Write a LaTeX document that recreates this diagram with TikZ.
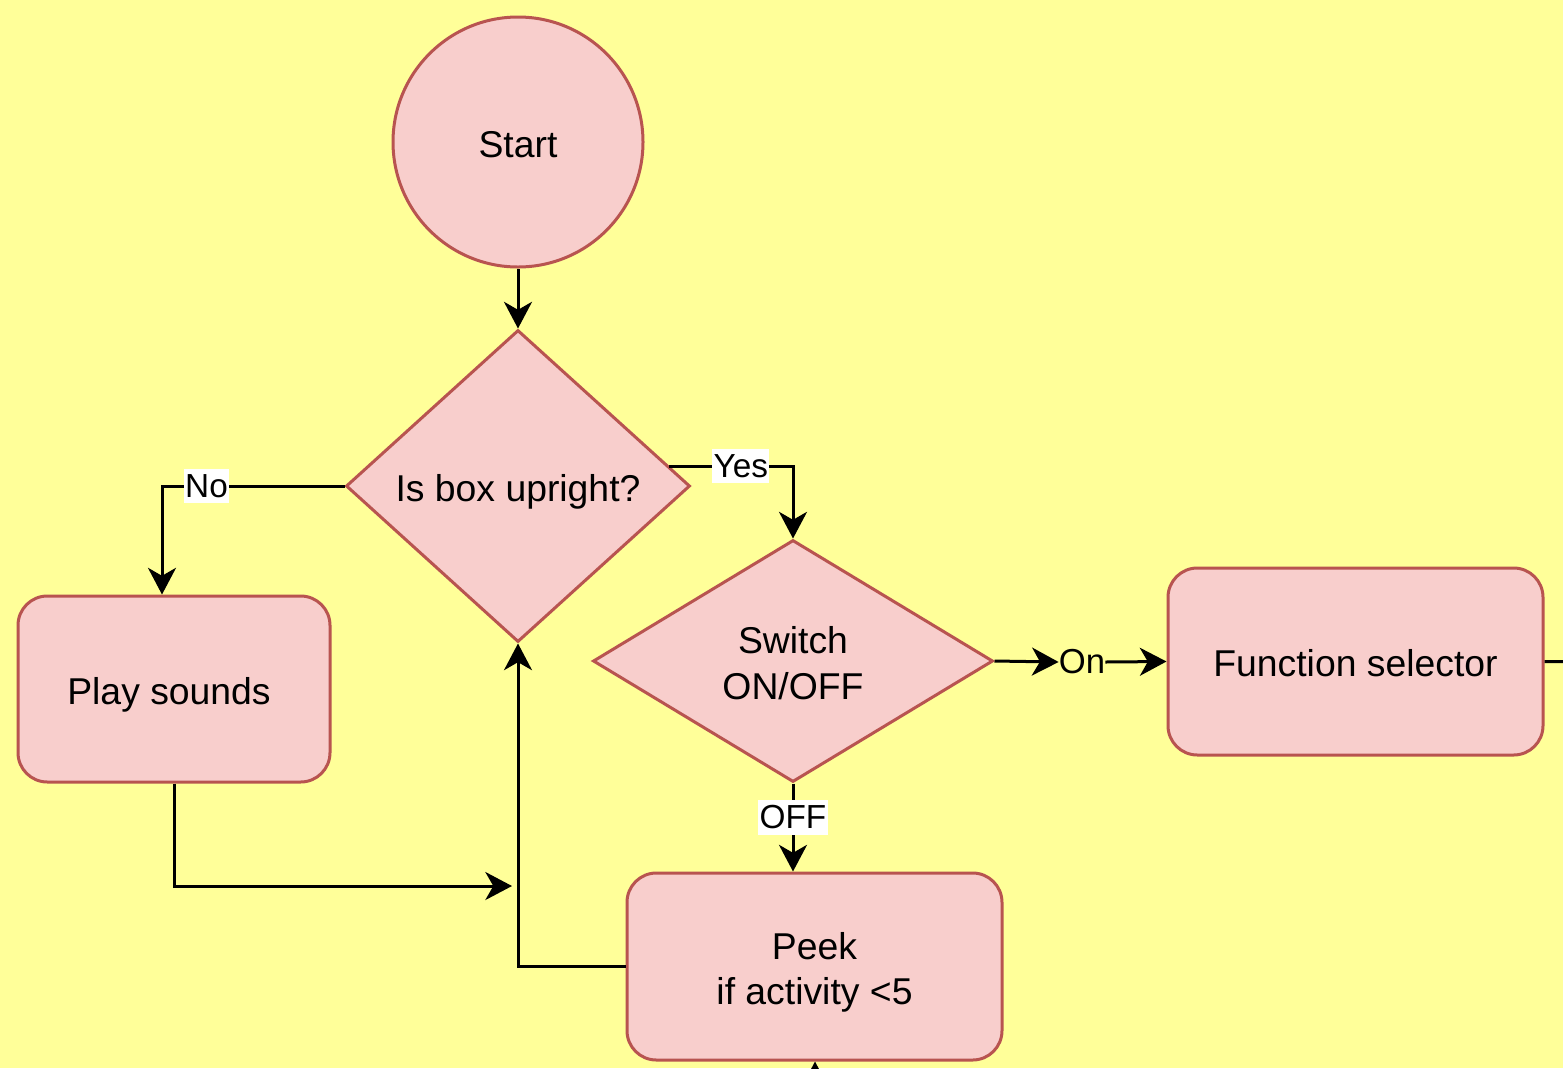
\documentclass[tikz,border=0pt]{standalone}
\usepackage{fontspec}
\setmainfont{Liberation Sans}
\usetikzlibrary{shapes.geometric,arrows.meta,calc}
\definecolor{bgyellow}{HTML}{FFFF99}
\definecolor{pinkfill}{HTML}{F8CECC}
\definecolor{pinkline}{HTML}{B85450}
\tikzset{
  shapebox/.style={draw=pinkline,fill=pinkfill,line width=2.25pt,font=\fontsize{28}{34}\selectfont,align=center,inner sep=0pt,text height=29pt,text depth=6pt},
  twoline/.style={text height=63pt,text depth=6pt},
  roundbox/.style={shapebox,rectangle,rounded corners=22pt},
  decision/.style={shapebox,diamond},
  conn/.style={line width=2.25pt,-{Stealth[length=20pt,width=21pt,inset=6pt]}},
  plainconn/.style={line width=2.25pt},
  edgelabel/.style={fill=white,inner xsep=1pt,inner ysep=4pt,font=\fontsize{25}{30}\selectfont},
}
\begin{document}
\begin{tikzpicture}[x=0.75pt,y=-0.75pt]
\useasboundingbox (0,0) rectangle (1563,1068);
\clip (0,0) rectangle (1563,1068);
\fill[bgyellow] (0,0) rectangle (1563,1068);

\node[shapebox,circle,minimum size=187.5pt] (start) at (518,142) {Start};
\node[decision,minimum width=258pt,minimum height=234pt] (d1) at (518,486) {Is box upright?};
\node[roundbox,minimum width=234pt,minimum height=139.5pt] (play) at (174,689) {Play sounds\hspace*{7.5pt}};
\node[decision,twoline,minimum width=300pt,minimum height=181.5pt] (d2) at (793,661) {Switch\\ON/OFF};
\node[roundbox,minimum width=281.25pt,minimum height=140.25pt] (fs) at (1355.5,661.5) {Function selector};
\node[roundbox,twoline,minimum width=281.25pt,minimum height=140.25pt] (peek) at (814.5,966.5) {Peek\\if activity <5};
\node[inner sep=0pt,font=\fontsize{26}{30}\selectfont] (on) at (1082,662) {On};

\coordinate (nodrop) at ($(play.north)+(-12,0)$);
\coordinate (yesstart) at ($(d1.east)!0.127!(d1.north)$);
\coordinate (playend) at (512,886);
\coordinate (offright) at (1600,662);
\coordinate (belowpeek) at (815,1120);

\draw[conn] (start.south) -- (d1.north);
\draw[conn] (d1.west) -| node[edgelabel,pos=0.378] {No} (nodrop);
\draw[conn] (yesstart) -| node[edgelabel,pos=0.289] {Yes} (d2.north);
\draw[conn] (d2.east) -- (on.west);
\draw[conn] (on.east) -- (fs.west);
\draw[plainconn] (fs.east) -- (offright);
\draw[conn] (d2.south) -- node[edgelabel,pos=0.385] {OFF} (d2.south |- peek.north);
\draw[conn] (peek.west) -| (d1.south);
\draw[conn] (play.south) |- (playend);
\draw[conn] (belowpeek) -- ($(peek.south)+(0.5,0)$);
\end{tikzpicture}
\end{document}
